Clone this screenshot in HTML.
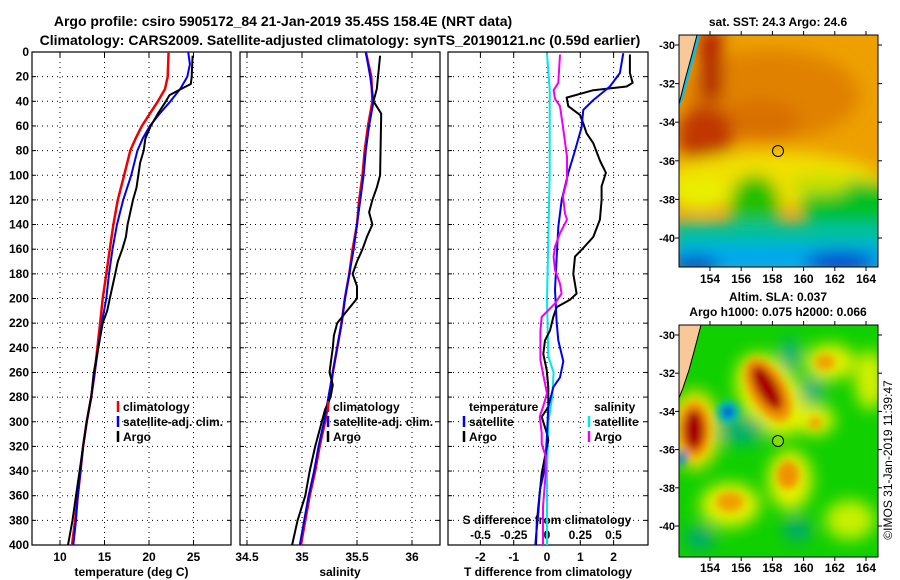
<!DOCTYPE html>
<html><head><meta charset="utf-8"><style>
html,body{margin:0;padding:0;background:#fff;width:900px;height:580px;overflow:hidden}
svg{display:block;font-family:"Liberation Sans",Arial,sans-serif;font-weight:bold}
</style></head><body>
<svg id="chart" width="900" height="580" viewBox="0 0 900 580">
<defs>
<filter id="blur8" x="-50%" y="-50%" width="200%" height="200%"><feGaussianBlur stdDeviation="8"/></filter>
<filter id="blur4" x="-50%" y="-50%" width="200%" height="200%"><feGaussianBlur stdDeviation="4"/></filter>
<clipPath id="c1"><rect x="32" y="52" width="199" height="493"/></clipPath>
<clipPath id="c2"><rect x="240" y="52" width="200" height="493"/></clipPath>
<clipPath id="c3"><rect x="448" y="52" width="200" height="493"/></clipPath>
<clipPath id="m1"><rect x="679" y="35" width="199" height="232"/></clipPath>
<clipPath id="m2"><rect x="679" y="325" width="199" height="232"/></clipPath>
</defs>
<text x="283" y="26" font-size="14" text-anchor="middle">Argo profile: csiro 5905172_84 21-Jan-2019 35.45S 158.4E (NRT data)</text>
<text x="340" y="45" font-size="14" text-anchor="middle">Climatology: CARS2009. Satellite-adjusted climatology: synTS_20190121.nc (0.59d earlier)</text>

<!-- SST map -->
<g clip-path="url(#m1)">
<rect x="679" y="35" width="199" height="232" fill="#eda000"/>
<g filter="url(#blur8)">
<ellipse cx="770" cy="95" rx="90" ry="45" fill="#e08200"/>
<ellipse cx="760" cy="120" rx="40" ry="20" fill="#d87000"/>
<ellipse cx="705" cy="135" rx="28" ry="30" fill="#c03800"/>
<rect x="700" y="30" width="22" height="70" fill="#b02000"/>
<ellipse cx="770" cy="180" rx="110" ry="28" fill="#f0e000"/>
<ellipse cx="700" cy="195" rx="30" ry="15" fill="#e8f000"/>
<ellipse cx="850" cy="205" rx="50" ry="25" fill="#00c020"/>
<ellipse cx="755" cy="205" rx="25" ry="30" fill="#20c000"/>
<ellipse cx="820" cy="185" rx="30" ry="10" fill="#c0e000"/>
<rect x="670" y="222" width="220" height="25" fill="#00c0a0"/>
<rect x="670" y="245" width="220" height="30" fill="#00a8f0"/>
<ellipse cx="695" cy="265" rx="25" ry="8" fill="#0040c0"/>
<ellipse cx="840" cy="262" rx="35" ry="10" fill="#0040d0"/>
</g>
<polygon points="679,35 700,35 694,58 688,80 683,98 679,108" fill="#00c0f0"/>
<polygon points="679,35 697,35 691,58 685,80 680,100 679,104" fill="#f8c898" stroke="#000" stroke-width="1"/>
<circle cx="778" cy="151" r="5.5" fill="none" stroke="#000" stroke-width="1"/>
</g>
<rect x="679" y="35" width="199" height="232" fill="none" stroke="#000"/>
<text x="778" y="26" font-size="12" text-anchor="middle">sat. SST: 24.3 Argo: 24.6</text>

<!-- SLA map -->
<g clip-path="url(#m2)">
<rect x="679" y="325" width="199" height="232" fill="#10d000"/>
<g filter="url(#blur8)">
<ellipse cx="770" cy="395" rx="30" ry="45" fill="#e8f000" transform="rotate(-30 770 395)"/>
<ellipse cx="695" cy="430" rx="25" ry="40" fill="#f0e000"/>
<ellipse cx="790" cy="480" rx="22" ry="30" fill="#e8f000"/>
<ellipse cx="730" cy="505" rx="30" ry="22" fill="#e8f000"/>
<ellipse cx="830" cy="362" rx="25" ry="18" fill="#e8f000"/>
<ellipse cx="870" cy="380" rx="15" ry="30" fill="#d8f000"/>
<ellipse cx="850" cy="520" rx="25" ry="20" fill="#c8f000"/>
<ellipse cx="815" cy="420" rx="20" ry="15" fill="#e8f000"/>
<ellipse cx="790" cy="355" rx="10" ry="18" fill="#00b080"/>
<ellipse cx="812" cy="390" rx="12" ry="14" fill="#00b080"/>
<ellipse cx="700" cy="538" rx="15" ry="12" fill="#00a878"/>
<ellipse cx="797" cy="530" rx="14" ry="12" fill="#00a878"/>
<ellipse cx="740" cy="430" rx="25" ry="15" fill="#00b070"/>
</g>
<g filter="url(#blur4)">
<ellipse cx="768" cy="390" rx="18" ry="35" fill="#f09000" transform="rotate(-30 768 390)"/>
<ellipse cx="767" cy="388" rx="10" ry="25" fill="#a80000" transform="rotate(-30 767 388)"/>
<ellipse cx="694" cy="430" rx="16" ry="28" fill="#f09000"/>
<ellipse cx="694" cy="430" rx="10" ry="20" fill="#a80000"/>
<ellipse cx="825" cy="362" rx="10" ry="8" fill="#f0a000"/>
<ellipse cx="788" cy="475" rx="11" ry="14" fill="#f09000"/>
<ellipse cx="730" cy="502" rx="14" ry="10" fill="#f0a000"/>
<ellipse cx="815" cy="423" rx="6" ry="6" fill="#f0a000"/>
<circle cx="728" cy="412" r="11" fill="#00c0d0"/>
<circle cx="728" cy="412" r="6" fill="#0040d0"/>
<ellipse cx="682" cy="458" rx="5" ry="8" fill="#0080e0"/>
</g>
<polygon points="679,325 701,325 695,348 689,370 683,388 679,398" fill="#f8c898" stroke="#000" stroke-width="1"/>
<circle cx="778" cy="441" r="5.5" fill="#80e000" stroke="#000" stroke-width="1"/>
</g>
<rect x="679" y="325" width="199" height="232" fill="none" stroke="#000"/>
<text x="778" y="301" font-size="12" text-anchor="middle">Altim. SLA: 0.037</text>
<text x="778" y="316" font-size="12" text-anchor="middle">Argo h1000: 0.075 h2000: 0.066</text>
<text transform="translate(892 460) rotate(-90)" font-size="12" font-weight="normal" text-anchor="middle">©IMOS 31-Jan-2019 11:39:47</text>
<g id="mapAxes"></g>
<g id="plots"></g>
</svg>
<script>
// ---- data ----
const depthTicks = [0,20,40,60,80,100,120,140,160,180,200,220,240,260,280,300,320,340,360,380,400];
const tempTicks = [10,15,20,25];
const salTicks = [34.5,35,35.5,36];
const tdiffTicks = [-2,-1,0,1,2];
const sdiffTicks = [-0.5,-0.25,0,0.25,0.5];
const sdiffLabels = ["-0.5","-0.25","0","0.25","0.5"];
const latTicks = [-30,-32,-34,-36,-38,-40];
const lonTicks = [154,156,158,160,162,164];

const climDepth = [0,20,30,40,50,60,70,80,100,120,140,160,180,200,220,240,260,280,300,320,340,360,380,400];
const climTemp = [22.2,22.1,21.8,21.0,20.1,19.2,18.5,17.9,17.2,16.5,16.0,15.6,15.2,14.8,14.5,14.2,13.9,13.5,13.0,12.6,12.3,12.0,11.7,11.35];
const satDepth = [0,10,20,30,40,50,60,70,80,100,120,140,160,180,200,220,240,260,280,300,320,340,360,380,400];
const satTemp = [24.4,24.6,24.3,23.5,22.4,21.2,20.1,19.3,18.7,18.0,17.1,16.4,15.9,15.5,15.2,14.7,14.3,13.9,13.5,13.0,12.6,12.3,12.0,11.8,11.5];
const argoDepth = [3,20,26,30,35,40,50,60,70,80,90,100,110,120,140,150,160,170,180,200,210,220,240,260,280,300,320,340,360,380,400];
const argoTemp = [24.9,24.8,24.7,23.6,22.3,21.9,21.0,20.2,19.6,19.4,19.0,18.8,18.6,18.2,17.6,17.4,17.0,16.5,16.2,15.6,15.3,14.8,14.3,13.8,13.5,13.0,12.6,12.2,11.8,11.4,10.9];

const sClimDepth = [0,20,40,60,80,100,120,140,160,180,200,220,240,260,280,300,320,340,360,380,400];
const sClim = [35.58,35.63,35.64,35.60,35.57,35.55,35.52,35.50,35.46,35.43,35.39,35.36,35.32,35.28,35.25,35.21,35.16,35.12,35.07,35.03,34.99];
const sSat = [35.58,35.62,35.65,35.61,35.58,35.56,35.53,35.50,35.47,35.43,35.39,35.36,35.32,35.28,35.24,35.20,35.15,35.11,35.06,35.02,34.98];
const sArgoDepth = [3,30,40,50,100,110,120,130,140,150,160,170,180,185,190,200,210,220,230,240,260,270,280,290,300,320,340,360,380,400];
const sArgo = [35.71,35.68,35.65,35.72,35.71,35.68,35.64,35.61,35.64,35.59,35.55,35.50,35.46,35.48,35.50,35.50,35.41,35.32,35.29,35.28,35.25,35.28,35.26,35.21,35.18,35.12,35.07,35.03,34.96,34.91];

const dTsatDepth = [1,17,28,39,47,61,80,98,120,142,166,193,220,234,251,264,272,288,315,337,355,374,387,400];
const dTsat = [2.29,2.19,1.89,1.39,1.09,1.04,0.84,0.64,0.44,0.34,0.29,0.24,0.29,0.34,0.49,0.39,0.19,0.04,-0.01,-0.06,-0.21,-0.26,-0.31,-0.35];
const dTargoDepth = [2,17,25,28,31,37,44,51,58,66,74,88,98,109,120,136,150,159,166,180,196,201,207,215,226,234,245,258,272,288,296,309,315,328,342,369,384,400];
const dTargo = [2.49,2.49,2.57,2.39,1.39,0.59,0.64,0.99,1.09,1.19,1.39,1.59,1.77,1.64,1.64,1.59,1.39,1.09,0.84,0.79,0.89,0.69,0.29,0.19,0.09,-0.06,-0.11,-0.01,0.04,0.04,-0.16,-0.01,0.04,-0.06,-0.16,-0.26,-0.31,-0.33];
const dSsatDepth = [1,31,98,152,201,247,260,279,301,342,387,400];
const dSsat = [0.0,0.02,0.02,0.01,0.0,0.01,0.05,0.04,0.01,0.0,0.0,0.0];
const dSargoDepth = [2,25,31,38,44,61,85,104,117,131,136,147,158,166,177,188,196,204,215,226,250,261,277,288,296,309,318,328,342,369,387,400];
const dSargo = [0.098,0.085,0.05,0.06,0.098,0.12,0.15,0.15,0.12,0.135,0.15,0.098,0.06,0.05,0.06,0.098,0.11,0.06,-0.04,-0.05,-0.05,-0.03,0.0,-0.03,-0.055,-0.04,-0.04,-0.01,-0.01,-0.03,-0.03,-0.03];

// ---- scales ----
const yD = d => 52 + d * 1.2325;
const xT = t => 60 + (t - 10) * 8.9;
const xS = s => 302 + (s - 35) * 110;
const xdT = v => 547 + v * 33.3;
const xdS = v => 547 + v * 133;
const NS = 'http://www.w3.org/2000/svg';
const plots = document.getElementById('plots');

function mk(tag, attrs, parent) {
  const e = document.createElementNS(NS, tag);
  for (const k in attrs) e.setAttribute(k, attrs[k]);
  (parent || plots).appendChild(e);
  return e;
}
function txt(x, y, s, anchor, size, parent) {
  const t = mk('text', {x: x, y: y, 'font-size': size || 12, 'text-anchor': anchor || 'start'}, parent);
  t.textContent = s;
  return t;
}
function line(depths, vals, xf, color, w, clip, name) {
  const pts = depths.map((d, i) => xf(vals[i]).toFixed(1) + ',' + yD(d).toFixed(1)).join(' ');
  const p = mk('polyline', {points: pts, fill: 'none', stroke: color, 'stroke-width': w, 'clip-path': 'url(#' + clip + ')', 'stroke-linejoin': 'round'});
  
  
}

const panels = [
  {x0: 32, x1: 231, clip: 'c1', name: 'temperature-panel', ticks: tempTicks, xf: xT, labels: tempTicks.map(String), title: 'temperature (deg C)'},
  {x0: 240, x1: 440, clip: 'c2', name: 'salinity-panel', ticks: salTicks, xf: xS, labels: salTicks.map(String), title: 'salinity'},
  {x0: 448, x1: 648, clip: 'c3', name: 'difference-panel', ticks: tdiffTicks, xf: xdT, labels: tdiffTicks.map(String), title: 'T difference from climatology'}
];
panels.forEach(p => {
  const g = mk('g', {});
  
  
  depthTicks.forEach(d => {
    if (d > 0 && d < 400) mk('line', {x1: p.x0, x2: p.x1, y1: yD(d), y2: yD(d), stroke: '#000', 'stroke-width': 1, 'stroke-dasharray': '1,4'}, g);
    mk('line', {x1: p.x0, x2: p.x0 + 4, y1: yD(d), y2: yD(d), stroke: '#000'}, g);
    mk('line', {x1: p.x1, x2: p.x1 - 4, y1: yD(d), y2: yD(d), stroke: '#000'}, g);
  });
  p.ticks.forEach((t, i) => {
    const x = p.xf(t);
    if (x > p.x0 + 2 && x < p.x1 - 2) mk('line', {x1: x, x2: x, y1: 52, y2: 545, stroke: '#000', 'stroke-dasharray': '1,4'}, g);
    mk('line', {x1: x, x2: x, y1: 545, y2: 540, stroke: '#000'}, g);
    mk('line', {x1: x, x2: x, y1: 52, y2: 57, stroke: '#000'}, g);
    const l = txt(x, 561, p.labels[i], 'middle', 12, g);
    
    
  });
  mk('rect', {x: p.x0, y: 52, width: p.x1 - p.x0, height: 493, fill: 'none', stroke: '#000', 'stroke-width': 1.2}, g);
  const t = txt((p.x0 + p.x1) / 2, 576, p.title, 'middle', 12, g);
  
  
});
depthTicks.forEach(d => {
  const l = txt(29, yD(d) + 4, String(d), 'end', 12);
  
  
});
// S diff secondary axis
sdiffTicks.forEach((s, i) => {
  const l = txt(xdS(s), 539, sdiffLabels[i], 'middle', 12);
  
  
});
const st = txt(547, 524, 'S difference from climatology', 'middle', 12);



// series
line(climDepth, climTemp, xT, '#f00000', 2.5, 'c1', 'temp-climatology-line');
line(satDepth, satTemp, xT, '#0000f0', 2, 'c1', 'temp-satellite-line');
line(argoDepth, argoTemp, xT, '#000', 2, 'c1', 'temp-argo-line');
line(sClimDepth, sClim, xS, '#f00000', 2.5, 'c2', 'sal-climatology-line');
line(sClimDepth, sSat, xS, '#0000f0', 2, 'c2', 'sal-satellite-line');
line(sArgoDepth, sArgo, xS, '#000', 2, 'c2', 'sal-argo-line');
line(dSsatDepth, dSsat, xdS, '#00e8e8', 2, 'c3', 's-diff-satellite-line');
line(dTargoDepth, dTargo, xdT, '#000', 2, 'c3', 't-diff-argo-line');
line(dTsatDepth, dTsat, xdT, '#0000f0', 2, 'c3', 't-diff-satellite-line');
line(dSargoDepth, dSargo, xdS, '#f000f0', 2, 'c3', 's-diff-argo-line');

// legends
function legend(x, y, items, name) {
  const g = mk('g', {});
  
  
  items.forEach((it, i) => {
    const yy = y + i * 15;
    if (it[1]) mk('line', {x1: x, x2: x, y1: yy - 10, y2: yy + 1, stroke: it[1], 'stroke-width': 2.5}, g);
    txt(x + 5, yy, it[0], 'start', 12, g);
  });
}
legend(118, 411, [['climatology', '#f00000'], ['satellite-adj. clim.', '#0000f0'], ['Argo', '#000']], 'temp-legend');
legend(328, 411, [['climatology', '#f00000'], ['satellite-adj. clim.', '#0000f0'], ['Argo', '#000']], 'sal-legend');
legend(464, 411, [['temperature', null], ['satellite', '#0000f0'], ['Argo', '#000']], 'tdiff-legend');
legend(589, 411, [['salinity', null], ['satellite', '#00e8e8'], ['Argo', '#f000f0']], 'sdiff-legend');

// map axes (lat labels on the left of maps)
const ma = document.getElementById('mapAxes');
[[35, 45, 19.3, 283], [325, 335, 19.1, 572]].forEach(m => {
  latTicks.forEach(l => {
    const y = m[1] + (-30 - l) * m[2];
    mk('line', {x1: 679, x2: 675, y1: y, y2: y, stroke: '#000'}, ma);
    mk('line', {x1: 878, x2: 882, y1: y, y2: y, stroke: '#000'}, ma);
    const t = txt(675, y + 4, String(l), 'end', 11, ma);
    
    
  });
  lonTicks.forEach(l => {
    const x = 710 + (l - 154) * 15.6;
    mk('line', {x1: x, x2: x, y1: m[0], y2: m[0] - 4, stroke: '#000'}, ma);
    mk('line', {x1: x, x2: x, y1: m[0] + 232, y2: m[0] + 236, stroke: '#000'}, ma);
    const t = txt(x, m[3], String(l), 'middle', 12, ma);
    
    
  });
});
</script>
</body></html>
